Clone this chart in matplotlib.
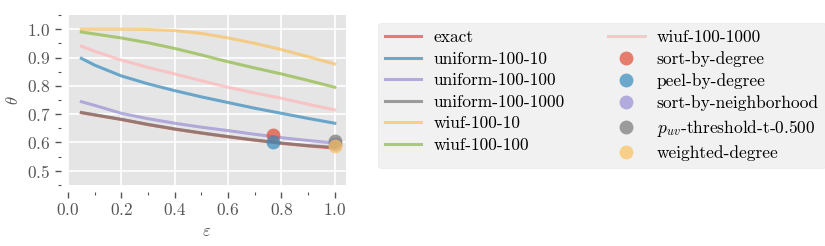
import matplotlib
matplotlib.use("Agg")
import matplotlib.pyplot as plt
from matplotlib.ticker import MultipleLocator

# epsilon sample points and theta curves
eps = [0.05, 0.1, 0.2, 0.3, 0.4, 0.5, 0.6, 0.7, 0.8, 0.9, 1.0]
exact = [0.705, 0.697, 0.681, 0.663, 0.647, 0.633, 0.620, 0.608, 0.597, 0.588, 0.580]
uniform_10 = [0.897, 0.873, 0.835, 0.807, 0.783, 0.761, 0.741, 0.721, 0.703, 0.685, 0.668]
uniform_100 = [0.744, 0.731, 0.703, 0.684, 0.668, 0.654, 0.642, 0.629, 0.617, 0.607, 0.598]
uniform_1000 = [0.706, 0.698, 0.682, 0.664, 0.648, 0.634, 0.621, 0.609, 0.598, 0.589, 0.583]
wiuf_10 = [1.000, 1.000, 1.000, 0.999, 0.995, 0.985, 0.969, 0.950, 0.928, 0.903, 0.877]
wiuf_100 = [0.990, 0.983, 0.969, 0.952, 0.932, 0.909, 0.885, 0.863, 0.842, 0.819, 0.795]
wiuf_1000 = [0.940, 0.922, 0.891, 0.865, 0.842, 0.818, 0.795, 0.775, 0.756, 0.735, 0.715]

line_names = ["exact", "uniform-100-10", "uniform-100-100", "uniform-100-1000",
              "wiuf-100-10", "wiuf-100-100", "wiuf-100-1000"]
line_data = [exact, uniform_10, uniform_100, uniform_1000, wiuf_10, wiuf_100, wiuf_1000]

# single-point heuristics
point_names = ["sort-by-degree", "peel-by-degree", "sort-by-neighborhood",
               r"$p_{uv}$-threshold-t-0.500", "weighted-degree"]
point_eps = [0.77, 0.77, 1.0, 1.0, 1.0]
point_theta = [0.625, 0.600, 0.595, 0.605, 0.587]

plt.style.use("ggplot")
plt.rcParams["font.family"] = "serif"
plt.rcParams["font.serif"] = ["cmr10", "DejaVu Serif"]
plt.rcParams["mathtext.fontset"] = "cm"
plt.rcParams["axes.formatter.use_mathtext"] = True
plt.rcParams["font.size"] = 12

colors = ["#E24A33", "#348ABD", "#988ED5", "#777777", "#FBC15E", "#8EBA42", "#FFB5B8"]

fig = plt.figure(figsize=(8.25, 2.46), dpi=100)
ax = fig.add_axes([0.0824, 0.248, 0.337, 0.691])

handles = []
for name, vals, c in zip(line_names, line_data, colors):
    h, = ax.plot(eps, vals, color=c, lw=2.2, alpha=0.7, label=name)
    handles.append(h)
for name, x, y, c in zip(point_names, point_eps, point_theta, colors):
    h, = ax.plot([x], [y], "o", color=c, ms=10, mew=0, alpha=0.7, ls="none", label=name)
    handles.append(h)

ax.set_ylim(0.45, 1.05)
ax.set_xlim(0.0, 1.042)
ax.xaxis.set_major_locator(MultipleLocator(0.2))
ax.xaxis.set_minor_locator(MultipleLocator(0.1))
ax.yaxis.set_major_locator(MultipleLocator(0.1))
ax.yaxis.set_minor_locator(MultipleLocator(0.05))
ax.tick_params(which="major", length=4, width=1, colors="#555555", labelsize=12.5)
ax.tick_params(which="minor", length=2, width=0.8, colors="#555555")
ax.grid(True, which="major", color="white", lw=1.2)
for s in ax.spines.values():
    s.set_visible(False)
ax.spines["left"].set_position(("outward", 5))
ax.spines["bottom"].set_position(("outward", 5))

ax.set_xlabel(r"$\varepsilon$", color="#555555", fontsize=12)
ax.set_ylabel(r"$\theta$", color="#555555", fontsize=12)

fig.legend(handles=handles, ncol=2, loc="upper left",
           bbox_to_anchor=(0.458, 0.907), fontsize=12.5,
           facecolor="#EEEEEE", edgecolor="#E6E6E6", framealpha=0.8,
           handlelength=2.1, handletextpad=0.7, columnspacing=2.5,
           labelspacing=0.36, borderaxespad=0)

fig.savefig("out.png", dpi=100)
